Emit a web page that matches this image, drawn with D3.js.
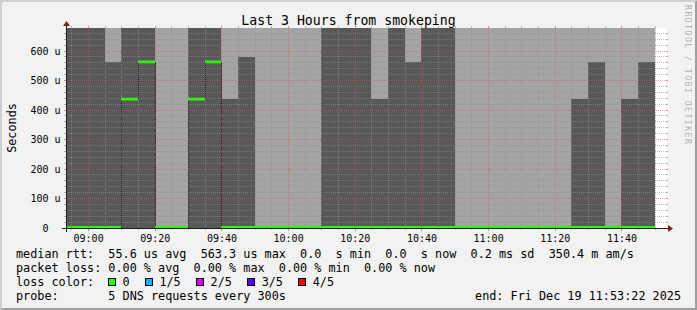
<!DOCTYPE html>
<html><head><meta charset="utf-8">
<script src="https://cdn.jsdelivr.net/npm/d3@7"></script>
<style>
html,body{margin:0;padding:0;background:#f2f2f2;}
svg{display:block;}
text{font-family:"DejaVu Sans Mono",monospace;white-space:pre;}
</style></head><body>
<svg id="c" width="697" height="310" xml:space="preserve"></svg>
<script>
// ---------------- data ----------------
const title = "Last 3 Hours from smokeping";
const yAxisLabel = "Seconds";
const watermark = "RRDTOOL / TOBI OETIKER";
const startTime = "2025-12-19 08:53:22";
const endTime   = "2025-12-19 11:53:22";
const yMax = 678; // µs, top of the value axis

// 5-minute bins (start times)
const binStarts = ["08:50","08:55","09:00","09:05","09:10","09:15","09:20","09:25","09:30","09:35",
                   "09:40","09:45","09:50","09:55","10:00","10:05","10:10","10:15","10:20","10:25",
                   "10:30","10:35","10:40","10:45","10:50","10:55","11:00","11:05","11:10","11:15",
                   "11:20","11:25","11:30","11:35","11:40","11:45"];
// outer smoke (ping 1..5 envelope upper edge), µs — above the visible range
const outerSmoke = [700,700,700,700,700,700,700,700,700,700,
                    700,700,700,700,700,700,700,700,700,700,
                    700,700,700,700,700,700,700,700,700,700,
                    700,700,700,700,700,700];
// inner smoke (ping 2..4 envelope upper edge), µs
const innerSmoke = [700,700,700,563,700,700,0,0,700,700,
                    437,580,0,0,0,0,700,700,700,437,
                    700,563,700,700,0,0,0,0,0,0,
                    0,437,563,0,437,563];
// median rtt, µs
const medianRtt  = [0,0,0,0,437,563,0,0,437,563,
                    0,0,0,0,0,0,0,0,0,0,
                    0,0,0,0,0,0,0,0,0,0,
                    0,0,0,0,0,0];

const yTicks = [0,100,200,300,400,500,600];
const yTickLabels = ["0  ","100 u","200 u","300 u","400 u","500 u","600 u"];

const legendRtt   = "median rtt:  55.6 us avg  563.3 us max  0.0  s min  0.0  s now  0.2 ms sd  350.4 m am/s";
const legendLoss  = "packet loss: 0.00 % avg  0.00 % max  0.00 % min  0.00 % now";
const lossTitle   = "loss color:";
const lossLabels  = ["0","1/5","2/5","3/5","4/5"];
const lossColors  = ["#26ff00","#00b8ff","#dd00ff","#5e00ff","#ff0000"];
const probeText   = "probe:       5 DNS requests every 300s";
const endText     = "end: Fri Dec 19 11:53:22 2025";

// ---------------- drawing ----------------
const W = 697, H = 310;
const X0 = 66, XS = 600, Y0 = 228, YS = 200;
const svg = d3.select("#c");
const parse = d3.timeParse("%Y-%m-%d %H:%M:%S");
const t0 = parse(startTime), t1 = parse(endTime);
const x = d3.scaleTime().domain([t0, t1]).range([X0, X0 + XS]);
const y = d3.scaleLinear().domain([0, yMax]).range([Y0, Y0 - YS]);
const px = t => Math.max(X0, Math.round(x(t)));

// background + shade
svg.append("rect").attr("width", W).attr("height", H).attr("fill", "#f2f2f2");
svg.append("polygon").attr("points", `0,0 ${W},0 ${W-2},2 2,2 2,${H-2} 0,${H}`).attr("fill", "#cfcfcf");
svg.append("polygon").attr("points", `${W},0 ${W},${H} 0,${H} 2,${H-2} ${W-2},${H-2} ${W-2},2`).attr("fill", "#9e9e9e");

// canvas
svg.append("rect").attr("x", X0).attr("y", Y0 - YS).attr("width", XS + 1).attr("height", YS).attr("fill", "#ffffff");

const defs = svg.append("defs");
defs.append("clipPath").attr("id", "plotclip").append("rect")
  .attr("x", X0).attr("y", Y0 - YS).attr("width", XS + 1).attr("height", YS);

const bins = binStarts.map((s, i) => {
  const t = parse("2025-12-19 " + s + ":00");
  return {t, e: d3.timeMinute.offset(t, 5), outer: outerSmoke[i], inner: innerSmoke[i], med: medianRtt[i]};
});

const gData = svg.append("g").attr("clip-path", "url(#plotclip)").attr("shape-rendering", "crispEdges");
gData.selectAll("rect.outer").data(bins).join("rect").attr("class", "outer")
  .attr("x", d => px(d.t)).attr("width", d => px(d.e) - px(d.t))
  .attr("y", d => y(d.outer)).attr("height", d => y(0) - y(d.outer))
  .attr("fill", "#a4a4a4");
gData.selectAll("rect.inner").data(bins.filter(d => d.inner > 0)).join("rect").attr("class", "inner")
  .attr("x", d => px(d.t)).attr("width", d => px(d.e) - px(d.t))
  .attr("y", d => y(d.inner)).attr("height", d => y(0) - y(d.inner))
  .attr("fill", "#585858");

// median line (step) + loss-coloured median band
const medPts = bins.map(d => [px(d.t), d.med]);
medPts.push([px(bins[bins.length - 1].e), bins[bins.length - 1].med]);
const gMed = svg.append("g").attr("clip-path", "url(#plotclip)");
gMed.append("path")
  .attr("d", d3.line().x(d => d[0] + 0.5).y(d => y(d[1])).curve(d3.curveStepAfter)(medPts))
  .attr("fill", "none").attr("stroke", "#202020").attr("stroke-width", 1);
gMed.selectAll("rect.med").data(bins).join("rect").attr("class", "med")
  .attr("x", d => px(d.t)).attr("width", d => px(d.e) - px(d.t))
  .attr("y", d => y(d.med) - (d.med === 0 ? 2 : 1.4)).attr("height", d => d.med === 0 ? 4 : 2.8)
  .attr("fill", lossColors[0]);

// grid
const GRID = "rgba(143,143,143,0.6)", MGRID = "rgba(222,79,79,0.55)";
const gGrid = svg.append("g").attr("shape-rendering", "crispEdges");
const minorT = d3.timeMinute.every(5).range(t0, t1).filter(t => t.getMinutes() % 20 !== 0);
const majorT = d3.timeMinute.every(20).range(t0, t1);
const X1 = X0 + XS, Y1 = Y0 - YS;
minorT.forEach(t => {
  const xx = Math.round(x(t)) + 0.5;
  gGrid.append("line").attr("x1", xx).attr("x2", xx).attr("y1", Y1 - 2).attr("y2", Y1).attr("stroke", GRID);
  gGrid.append("line").attr("x1", xx).attr("x2", xx).attr("y1", Y0).attr("y2", Y0 + 2).attr("stroke", GRID);
  gGrid.append("line").attr("x1", xx).attr("x2", xx).attr("y1", Y0 + 1).attr("y2", Y1 - 1).attr("stroke", GRID).attr("stroke-dasharray", "1,1");
});
const minorV = d3.range(0, yMax, 20).filter(v => v % 100 !== 0);
minorV.forEach(v => {
  const yy = Math.floor(y(v)) + 0.5;
  gGrid.append("line").attr("x1", X0 - 2).attr("x2", X0).attr("y1", yy).attr("y2", yy).attr("stroke", GRID);
  gGrid.append("line").attr("x1", X1).attr("x2", X1 + 2).attr("y1", yy).attr("y2", yy).attr("stroke", GRID);
  gGrid.append("line").attr("x1", X0 - 1).attr("x2", X1 + 1).attr("y1", yy).attr("y2", yy).attr("stroke", GRID).attr("stroke-dasharray", "1,1");
});
majorT.forEach(t => {
  const xx = Math.round(x(t)) + 0.5;
  gGrid.append("line").attr("x1", xx).attr("x2", xx).attr("y1", Y1 - 2).attr("y2", Y1).attr("stroke", MGRID);
  gGrid.append("line").attr("x1", xx).attr("x2", xx).attr("y1", Y0).attr("y2", Y0 + 3).attr("stroke", MGRID);
  gGrid.append("line").attr("x1", xx).attr("x2", xx).attr("y1", Y0 + 3).attr("y2", Y1 - 2).attr("stroke", MGRID).attr("stroke-dasharray", "1,1");
});
yTicks.filter(v => v > 0).forEach(v => {
  const yy = Math.floor(y(v)) + 0.5;
  gGrid.append("line").attr("x1", X0 - 2).attr("x2", X0).attr("y1", yy).attr("y2", yy).attr("stroke", MGRID);
  gGrid.append("line").attr("x1", X1).attr("x2", X1 + 2).attr("y1", yy).attr("y2", yy).attr("stroke", MGRID);
  gGrid.append("line").attr("x1", X0 - 2).attr("x2", X1 + 2).attr("y1", yy).attr("y2", yy).attr("stroke", MGRID).attr("stroke-dasharray", "1,1");
});

// axes
const AX = "#1f1f1f", ARROW = "#801f1f";
svg.append("line").attr("x1", X0 - 4).attr("x2", X1 + 4).attr("y1", Y0 + 0.5).attr("y2", Y0 + 0.5).attr("stroke", AX);
svg.append("line").attr("x1", X0 + 0.5).attr("x2", X0 + 0.5).attr("y1", Y0 + 4).attr("y2", Y1 - 4).attr("stroke", AX);
svg.append("polygon").attr("points", `${X1+2},${Y0-3} ${X1+2},${Y0+4} ${X1+7},${Y0+0.5}`).attr("fill", ARROW);
svg.append("polygon").attr("points", `${X0-3},${Y1-2} ${X0+4},${Y1-2} ${X0+0.5},${Y1-7}`).attr("fill", ARROW);

// tick labels
const fmt = d3.timeFormat("%H:%M");
svg.append("g").selectAll("text").data(majorT).join("text")
  .attr("x", d => x(d) + 0.5).attr("y", 241.5).attr("text-anchor", "middle")
  .attr("font-size", "10px").attr("fill", "#000").text(d => fmt(d));
svg.append("g").selectAll("text").data(yTicks).join("text")
  .attr("x", 60.5).attr("y", d => y(d) + 3.6).attr("text-anchor", "end")
  .attr("font-size", "10px").attr("fill", "#000").text((d, i) => yTickLabels[i]);

// title, y label, watermark
svg.append("text").attr("x", 348.5).attr("y", 24.5).attr("text-anchor", "middle")
  .attr("font-size", "13.2px").attr("fill", "#000").text(title);
svg.append("text").attr("transform", `translate(15.5,${Y0 - YS / 2}) rotate(-90)`)
  .attr("text-anchor", "middle").attr("font-size", "11.8px").attr("fill", "#000").text(yAxisLabel);
svg.append("text").attr("transform", `translate(${W - 6},5) rotate(90)`)
  .attr("x", 0).attr("y", 6).attr("font-size", "8.2px").attr("letter-spacing", "1.45px")
  .attr("fill", "rgba(0,0,0,0.3)").text(watermark);

// legend
const LF = "11.8px", CW = 7.1, LX = 16;
svg.append("text").attr("x", LX).attr("y", 258).attr("font-size", LF).text(legendRtt);
svg.append("text").attr("x", LX).attr("y", 272).attr("font-size", LF).text(legendLoss);
svg.append("text").attr("x", LX).attr("y", 286).attr("font-size", LF).text(lossTitle);
let lx = LX + 15 * CW;
lossLabels.forEach((lab, i) => {
  svg.append("rect").attr("x", Math.round(lx - 14.3) + 0.5).attr("y", 278.5).attr("width", 7).attr("height", 7)
    .attr("fill", lossColors[i]).attr("stroke", "#000").attr("stroke-width", 1);
  svg.append("text").attr("x", lx).attr("y", 286).attr("font-size", LF).text(lab);
  lx += (lab.length + 4.2) * CW;
});
svg.append("text").attr("x", LX).attr("y", 300).attr("font-size", LF).text(probeText);
svg.append("text").attr("x", 681).attr("y", 300).attr("text-anchor", "end").attr("font-size", LF).text(endText);
</script></body></html>
